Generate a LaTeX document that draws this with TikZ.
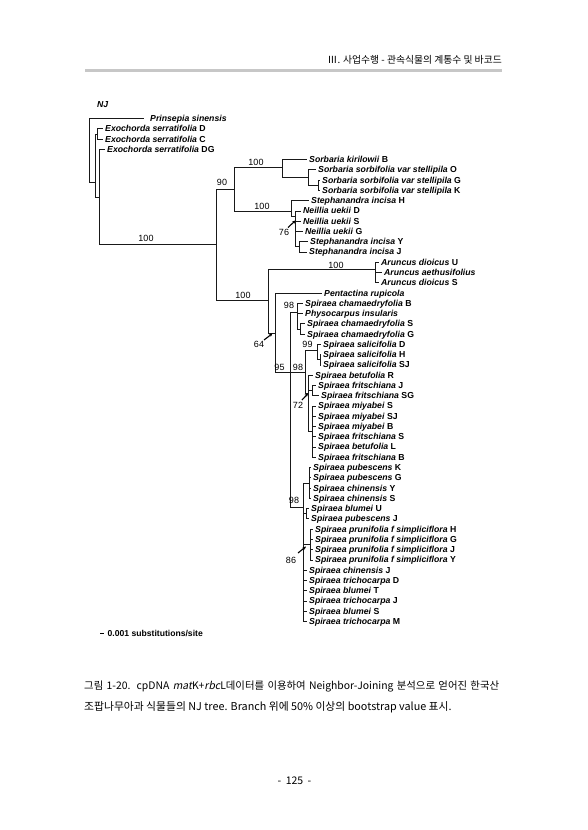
\documentclass[tikz,border=0pt]{standalone}
\usepackage{fontspec}
\setmainfont{Liberation Sans}
\newfontfamily\kr{Noto Sans CJK KR}
\newfontfamily\krit{Noto Sans CJK KR}[FakeSlant=0.2]
\newfontfamily\arl{Liberation Sans}
\usetikzlibrary{arrows.meta}
\tikzset{
 br/.style={line width=0.7pt, black!90},
 leaf/.style={anchor=west, inner sep=0pt, text height=6.3pt, text depth=0.3pt, font=\arl\bfseries\fontsize{8.7}{10}\selectfont},
 bs/.style={inner sep=0pt, font=\arl\fontsize{9}{10}\selectfont},
 bsarrow/.style={-{Stealth[length=3.4pt,width=3.2pt]}, line width=1.1pt},
}
\begin{document}
\begin{tikzpicture}[x=1pt,y=-1pt]
\fill[white] (0,0) rectangle (587,830);
\useasboundingbox (0,0) rectangle (587,830);

% header
\node[anchor=east, inner sep=0pt, font=\kr\fontsize{9.8}{11}\selectfont] (hdr) at (502,60) {Ⅲ. 사업수행 - 관속식물의 계통수 및 바코드};
\coordinate (hl1) at (85,70.5);
\coordinate (hl2) at (502,70.5);
\draw[line width=2.6pt, black!22] (hl1) -- (hl2);

\node[leaf] (nj) at (97,104.5) {\textit{NJ}};

% leaves
\node[leaf] (l1) at (150,118.5) {\textit{Prinsepia sinensis}};
\node[leaf] (l2) at (105,128.77) {\textit{Exochorda serratifolia} D};
\node[leaf] (l3) at (105,139.03) {\textit{Exochorda serratifolia} C};
\node[leaf] (l4) at (107,149.30) {\textit{Exochorda serratifolia} DG};
\node[leaf] (l5) at (309,159.56) {\textit{Sorbaria kirilowii} B};
\node[leaf] (l6) at (318,169.83) {\textit{Sorbaria sorbifolia var stellipila} O};
\node[leaf] (l7) at (322,180.09) {\textit{Sorbaria sorbifolia var stellipila} G};
\node[leaf] (l8) at (322,190.36) {\textit{Sorbaria sorbifolia var stellipila} K};
\node[leaf] (l9) at (311,200.62) {\textit{Stephanandra incisa} H};
\node[leaf] (l10) at (303,210.89) {\textit{Neillia uekii} D};
\node[leaf] (l11) at (303,221.15) {\textit{Neillia uekii} S};
\node[leaf] (l12) at (305,231.42) {\textit{Neillia uekii} G};
\node[leaf] (l13) at (310,241.68) {\textit{Stephanandra incisa} Y};
\node[leaf] (l14) at (309,251.95) {\textit{Stephanandra incisa} J};
\node[leaf] (l15) at (381,262.21) {\textit{Aruncus dioicus} U};
\node[leaf] (l16) at (384,272.48) {\textit{Aruncus aethusifolius}};
\node[leaf] (l17) at (381,282.74) {\textit{Aruncus dioicus} S};
\node[leaf] (l18) at (324,293.01) {\textit{Pentactina rupicola}};
\node[leaf] (l19) at (305,303.27) {\textit{Spiraea chamaedryfolia} B};
\node[leaf] (l20) at (305,313.54) {\textit{Physocarpus insularis}};
\node[leaf] (l21) at (307,323.80) {\textit{Spiraea chamaedryfolia} S};
\node[leaf] (l22) at (307,334.07) {\textit{Spiraea chamaedryfolia} G};
\node[leaf] (l23) at (323,344.33) {\textit{Spiraea salicifolia} D};
\node[leaf] (l24) at (323,354.60) {\textit{Spiraea salicifolia} H};
\node[leaf] (l25) at (323,364.86) {\textit{Spiraea salicifolia} SJ};
\node[leaf] (l26) at (315,375.13) {\textit{Spiraea betufolia} R};
\node[leaf] (l27) at (318,385.39) {\textit{Spiraea fritschiana} J};
\node[leaf] (l28) at (321,395.66) {\textit{Spiraea fritschiana} SG};
\node[leaf] (l29) at (318,405.92) {\textit{Spiraea miyabei} S};
\node[leaf] (l30) at (318,416.19) {\textit{Spiraea miyabei} SJ};
\node[leaf] (l31) at (318,426.45) {\textit{Spiraea miyabei} B};
\node[leaf] (l32) at (318,436.72) {\textit{Spiraea fritschiana} S};
\node[leaf] (l33) at (318,446.98) {\textit{Spiraea betufolia} L};
\node[leaf] (l34) at (318,457.25) {\textit{Spiraea fritschiana} B};
\node[leaf] (l35) at (313,467.51) {\textit{Spiraea pubescens} K};
\node[leaf] (l36) at (313,477.78) {\textit{Spiraea pubescens} G};
\node[leaf] (l37) at (313,488.04) {\textit{Spiraea chinensis} Y};
\node[leaf] (l38) at (313,498.31) {\textit{Spiraea chinensis} S};
\node[leaf] (l39) at (311,508.57) {\textit{Spiraea blumei} U};
\node[leaf] (l40) at (311,518.84) {\textit{Spiraea pubescens} J};
\node[leaf] (l41) at (315,529.10) {\textit{Spiraea prunifolia f simpliciflora} H};
\node[leaf] (l42) at (315,539.37) {\textit{Spiraea prunifolia f simpliciflora} G};
\node[leaf] (l43) at (315,549.63) {\textit{Spiraea prunifolia f simpliciflora} J};
\node[leaf] (l44) at (315,559.90) {\textit{Spiraea prunifolia f simpliciflora} Y};
\node[leaf] (l45) at (309,570.16) {\textit{Spiraea chinensis} J};
\node[leaf] (l46) at (309,580.43) {\textit{Spiraea trichocarpa} D};
\node[leaf] (l47) at (309,590.69) {\textit{Spiraea blumei} T};
\node[leaf] (l48) at (309,600.96) {\textit{Spiraea trichocarpa} J};
\node[leaf] (l49) at (309,611.22) {\textit{Spiraea blumei} S};
\node[leaf] (l50) at (309,621.49) {\textit{Spiraea trichocarpa} M};

% internal nodes
\coordinate (R) at (89,182);
\coordinate (A) at (95,182);
\coordinate (B) at (97,133.9);
\coordinate (C) at (99,197);
\coordinate (D) at (216,244);
\coordinate (E) at (234,189);
\coordinate (Y) at (268,300);
\coordinate (F) at (282,167);
\coordinate (G) at (291,211);
\coordinate (F2) at (308,177);
\coordinate (F3) at (318,185.2);
\coordinate (G2) at (295,216);
\coordinate (G3) at (299,246.8);
\coordinate (AR) at (375,269);
\coordinate (Z) at (275,333);
\coordinate (V) at (290,372);
\coordinate (CH) at (297,312);
\coordinate (CH2) at (300,328.9);
\coordinate (M) at (305,372);
\coordinate (SA) at (317,350);
\coordinate (SA2) at (320,359.7);
\coordinate (Q) at (308,393);
\coordinate (Q1) at (312,390.5);
\coordinate (Q2) at (312,431.5);
\coordinate (LO) at (303,507);
\coordinate (P1) at (309,483);
\coordinate (P2) at (306,513.7);
\coordinate (P3) at (310,544.5);

% edges
\draw[br] (R) |- ([xshift=-6pt]l1.west);
\draw[br] (R) -- (A);
\foreach \p/\c in {A/B,A/C,C/D,D/E,D/Y,E/F,E/G,F/F2,F2/F3,G/G2,G2/G3,Y/AR,Y/Z,Z/V,V/CH,V/M,V/LO,M/SA,M/Q,SA/SA2,CH/CH2,Q/Q1,Q/Q2,LO/P1,LO/P2,LO/P3}
  \draw[br] (\p) |- (\c);
\foreach \p/\c in {B/l2,B/l3,C/l4,F/l5,F2/l6,F3/l7,F3/l8,G/l9,G2/l10,G2/l11,G2/l12,G3/l13,G3/l14,AR/l15,AR/l16,AR/l17,Z/l18,CH/l19,CH/l20,CH2/l21,CH2/l22,SA/l23,SA2/l24,SA2/l25,Q/l26,Q1/l27,Q1/l28,Q2/l29,Q2/l30,Q2/l31,Q2/l32,Q2/l33,Q2/l34,P1/l35,P1/l36,P1/l37,P1/l38,P2/l39,P2/l40,P3/l41,P3/l42,P3/l43,P3/l44,LO/l45,LO/l46,LO/l47,LO/l48,LO/l49,LO/l50}
  \draw[br] (\p) |- ([xshift=-2.5pt]\c.west);

% bootstrap values
\node[bs] (b1) at (146,238) {100};
\node[bs] (b2) at (222,182.5) {90};
\node[bs] (b3) at (256,162) {100};
\node[bs] (b4) at (262,206) {100};
\node[bs] (b5) at (284,232.5) {76};
\node[bs] (b6) at (336,265) {100};
\node[bs] (b7) at (243,295.5) {100};
\node[bs] (b8) at (289,305.5) {98};
\node[bs] (b9) at (259,344.5) {64};
\node[bs] (b10) at (307.5,344.5) {99};
\node[bs] (b11) at (279.5,367.5) {95};
\node[bs] (b12) at (298,367) {98};
\node[bs] (b13) at (298,405) {72};
\node[bs] (b14) at (294,500) {98};
\node[bs] (b15) at (291,560) {86};

% bootstrap pointers
\coordinate (a76s) at (288,227.5); \coordinate (a76e) at (295.5,220.5);
\coordinate (a64s) at (264,340);   \coordinate (a64e) at (272.5,333.5);
\coordinate (a72s) at (302,400);   \coordinate (a72e) at (308,393.5);
\coordinate (a86s) at (298,553);   \coordinate (a86e) at (306,546.5);
\draw[bsarrow] (a76s) -- (a76e);
\draw[bsarrow] (a64s) -- (a64e);
\draw[bsarrow] (a72s) -- (a72e);
\draw[bsarrow] (a86s) -- (a86e);

% scale bar
\coordinate (sb1) at (100,633.5);
\coordinate (sb2) at (104,633.5);
\draw[line width=0.9pt] (sb1) -- (sb2);
\node[anchor=west, inner sep=0pt, font=\arl\bfseries\fontsize{8.6}{10}\selectfont] (sbt) at (107.5,633.5) {0.001 substitutions/site};

% caption
\node[anchor=west, inner sep=0pt, font=\kr\fontsize{10.4}{12}\selectfont] (cap1) at (84,686) {\hbox to 415pt{그림 1-20. cpDNA {\krit mat}K+{\krit rbc}L데이터를 이용하여 Neighbor-Joining 분석으로 얻어진 한국산}};
\node[anchor=west, inner sep=0pt, font=\kr\fontsize{10.8}{12}\selectfont] (cap2) at (84,707) {조팝나무아과 식물들의 NJ tree. Branch 위에 50\% 이상의 bootstrap value 표시.};

\node[inner sep=0pt, font=\kr\fontsize{10.5}{11}\selectfont] (pg) at (294.5,781) {-\hspace{4.5pt}125\hspace{4.5pt}-};
\end{tikzpicture}
\end{document}
